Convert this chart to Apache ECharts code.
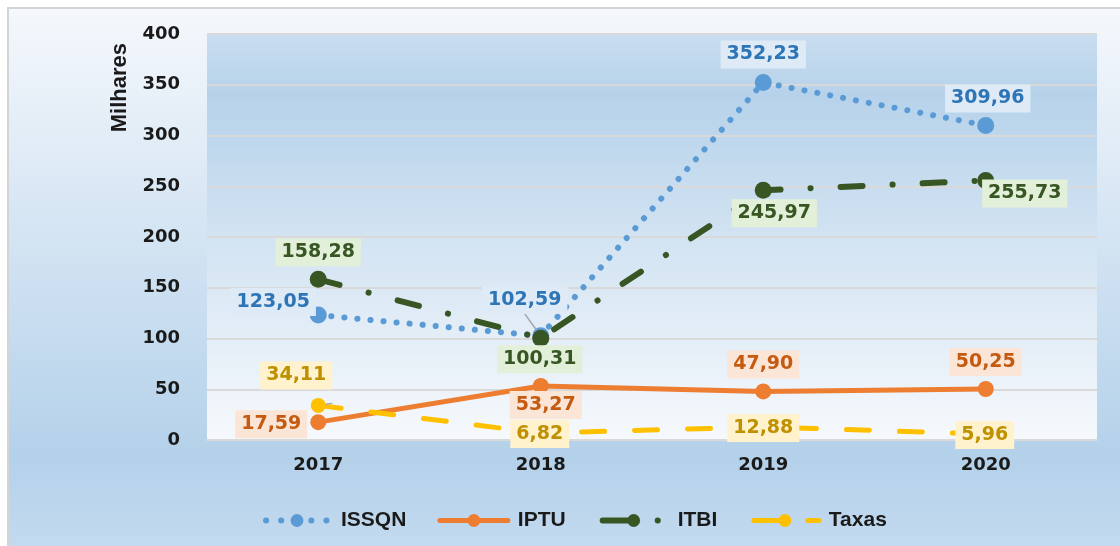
<!DOCTYPE html>
<html>
<head>
<meta charset="utf-8">
<script src="https://cdn.jsdelivr.net/npm/echarts@6/dist/echarts.min.js"></script>
<style>
  html, body { margin: 0; padding: 0; background: #ffffff; }
  #grafico { width: 1120px; height: 546px; }
</style>
</head>
<body>
<div id="grafico"></div>
<script>
// dados (milhares)
const anos = ['2017', '2018', '2019', '2020']
const issqn = [123.05, 102.59, 352.23, 309.96]
const iptu = [17.59, 53.27, 47.90, 50.25]
const itbi = [158.28, 100.31, 245.97, 255.73]
const taxas = [34.11, 6.82, 12.88, 5.96]
const eixoY = { min: 0, max: 400, intervalo: 50 }

// deslocamento dos rotulos em relacao ao ponto
const desloc = {
  ISSQN: [[-45, -13], [-16, -36], [0, -28], [2, -27]],
  IPTU: [[-47, 2], [5, 19], [0, -27], [0, -27]],
  ITBI: [[0, -27], [-1, 21], [11, 23], [39, 13]],
  Taxas: [[-22, -30], [-1, 1], [0, 1], [-1, 1]]
}
const comGuia = { ISSQN: [1], Taxas: [0] }

const fonteNum = 'DejaVu Sans'
const fonteTxt = 'Liberation Sans'

const estilos = {
  ISSQN: { cor: '#5b9bd5', texto: '#2e75b6', fundo: '#deebf7', linha: { width: 6, type: [0.1, 13] }, simb: 17 },
  IPTU: { cor: '#ed7d31', texto: '#c55a11', fundo: '#fbe5d6', linha: { width: 5, type: 'solid' }, simb: 16 },
  ITBI: { cor: '#375623', texto: '#375623', fundo: '#e2f0d9', linha: { width: 6, type: [22, 30, 0.1, 30] }, simb: 17 },
  Taxas: { cor: '#ffc000', texto: '#bf9000', fundo: '#fff2cc', linha: { width: 5, type: [23, 30] }, simb: 15 }
}

// tracejado dos icones da legenda
const tracoLegenda = {
  ISSQN: { type: [0.1, 15], dashOffset: -3 },
  IPTU: {},
  ITBI: { type: [30, 25, 0.1, 40] },
  Taxas: { type: [28, 26, 18, 40] }
}

function fmt(v) {
  return v.toFixed(2).replace('.', ',')
}

function montarDados(nome, valores) {
  return valores.map((v, i) => ({
    value: v,
    label: {
      offset: desloc[nome][i]
    },
    labelLine: {
      show: (comGuia[nome] || []).indexOf(i) >= 0,
      lineStyle: { color: '#a6a6a6', width: 1.5 }
    }
  }))
}

function serie(nome, valores) {
  const e = estilos[nome]
  return {
    name: nome,
    type: 'line',
    data: montarDados(nome, valores),
    symbol: 'circle',
    symbolSize: e.simb,
    itemStyle: { color: e.cor },
    lineStyle: Object.assign({ color: e.cor, cap: 'round' }, e.linha),
    label: {
      show: true,
      position: 'inside',
      formatter: p => fmt(p.value),
      color: e.texto,
      backgroundColor: e.fundo,
      fontFamily: fonteNum,
      fontWeight: 'bold',
      fontSize: 19,
      padding: [5, 6, 4, 6]
    },
    emphasis: { disabled: true },
    animation: false
  }
}

function itemLegenda(nome) {
  const e = estilos[nome]
  return {
    name: nome,
    itemStyle: { color: e.cor },
    lineStyle: Object.assign({ color: e.cor, cap: 'round' }, e.linha, tracoLegenda[nome])
  }
}

let myChart = echarts.init(document.getElementById('grafico'))

let option = {
  animation: false,
  graphic: [
    {
      type: 'rect',
      z: -10,
      shape: { x: 8, y: 8, width: 1130, height: 560 },
      style: {
        fill: new echarts.graphic.LinearGradient(0, 0, 0, 1, [
          { offset: 0, color: '#f5f8fc' },
          { offset: 0.8, color: '#b4d1ea' },
          { offset: 1, color: '#c7dcf0' }
        ]),
        stroke: '#d4d4d4',
        lineWidth: 2
      }
    },
    {
      type: 'text',
      left: 109,
      top: 43,
      rotation: Math.PI / 2,
      style: {
        text: 'Milhares',
        fill: '#1a1a1a',
        font: 'bold 22px "Liberation Sans"'
      }
    }
  ],
  grid: {
    left: 207,
    right: 23,
    top: 34,
    bottom: 106,
    show: true,
    borderWidth: 0,
    backgroundColor: new echarts.graphic.LinearGradient(0, 0, 0, 1, [
      { offset: 0, color: '#c9ddf0' },
      { offset: 0.15, color: '#b6d2ea' },
      { offset: 0.5, color: '#d2e3f2' },
      { offset: 1, color: '#f6f9fc' }
    ])
  },
  legend: {
    left: 260,
    top: 510,
    padding: 0,
    itemWidth: 68,
    itemHeight: 16,
    itemGap: 31,
    textStyle: {
      color: '#1a1a1a',
      fontFamily: fonteTxt,
      fontWeight: 'bold',
      fontSize: 21,
      padding: [0, 0, 0, 5]
    },
    data: ['ISSQN', 'IPTU', 'ITBI', 'Taxas'].map(itemLegenda)
  },
  xAxis: {
    type: 'category',
    data: anos,
    boundaryGap: true,
    axisLine: { show: true, lineStyle: { color: '#d9d9d9', width: 2 } },
    axisTick: { show: false },
    axisLabel: {
      margin: 16,
      color: '#1a1a1a',
      fontFamily: fonteNum,
      fontWeight: 'bold',
      fontSize: 18
    }
  },
  yAxis: {
    type: 'value',
    min: eixoY.min,
    max: eixoY.max,
    interval: eixoY.intervalo,
    axisLine: { show: false },
    axisTick: { show: false },
    splitLine: { lineStyle: { color: '#d9d9d9', width: 2 } },
    axisLabel: {
      margin: 27,
      color: '#1a1a1a',
      fontFamily: fonteNum,
      fontWeight: 'bold',
      fontSize: 18
    }
  },
  series: [
    serie('ISSQN', issqn),
    serie('IPTU', iptu),
    serie('ITBI', itbi),
    serie('Taxas', taxas)
  ]
}

myChart.setOption(option)
</script>
</body>
</html>
